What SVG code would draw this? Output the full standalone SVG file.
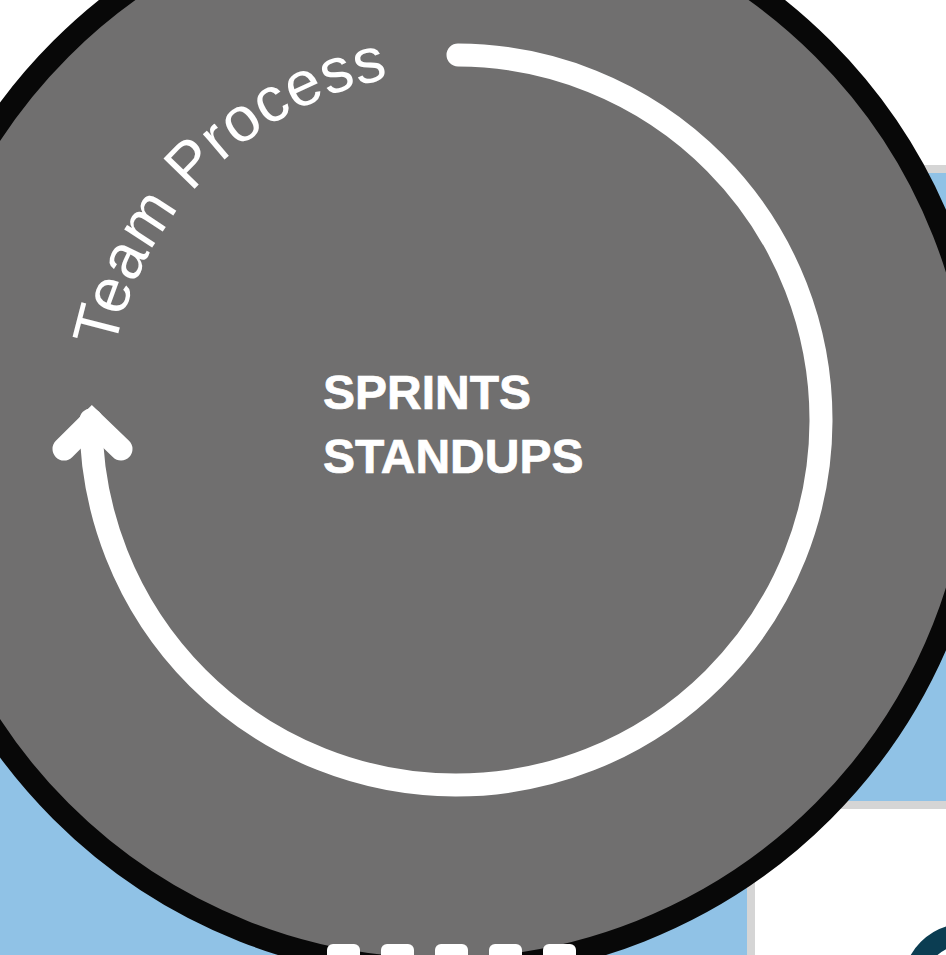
<svg xmlns="http://www.w3.org/2000/svg" width="946" height="955" viewBox="0 0 946 955">
<style>
.lbl{fill:#ffffff;font-family:"Liberation Sans",Arial,sans-serif;}
.bold{font-weight:bold;font-size:48px;stroke:#ffffff;stroke-width:0.7;}
.curve{font-size:63px;letter-spacing:0.8px;}
.wstroke{fill:none;stroke:#ffffff;stroke-width:23;}
</style>
<defs>
<path id="textArc" d="M114.6,348.9 A348,348 0 0 1 456,72"/>
</defs>
<rect x="0" y="0" width="946" height="955" fill="#ffffff"/>
<g id="panel">
<rect x="-20" y="165" width="986" height="810" fill="#d5d5d5"/>
<rect x="-20" y="173" width="986" height="800" fill="#90c2e6"/>
</g>
<g id="card">
<rect x="747" y="801" width="220" height="180" fill="#d5d5d5"/>
<rect x="755" y="809" width="212" height="170" fill="#ffffff"/>
<circle cx="964" cy="985" r="50.5" fill="none" stroke="#0b3d52" stroke-width="21"/>
</g>
<g id="team-process">
<circle cx="442" cy="430" r="539" fill="#706f6f" stroke="#080808" stroke-width="22"/>
<text class="lbl curve"><textPath href="#textArc">Team Process</textPath></text>
<text class="lbl bold" x="323" y="409">SPRINTS</text>
<text class="lbl bold" x="323" y="473">STANDUPS</text>
</g>
<g id="connectors">
<path class="wstroke" d="M458,55 A365,365 0 1 1 91,420" stroke-linecap="round"/>
<polyline class="wstroke" points="64,449 92,421 121,449" stroke-linecap="round" stroke-linejoin="miter"/>
</g>
<g id="tabs" fill="#ffffff">
<rect x="327" y="944" width="33" height="20" rx="6"/>
<rect x="381" y="944" width="33" height="20" rx="6"/>
<rect x="435" y="944" width="33" height="20" rx="6"/>
<rect x="489" y="944" width="33" height="20" rx="6"/>
<rect x="543" y="944" width="33" height="20" rx="6"/>
</g>
</svg>
